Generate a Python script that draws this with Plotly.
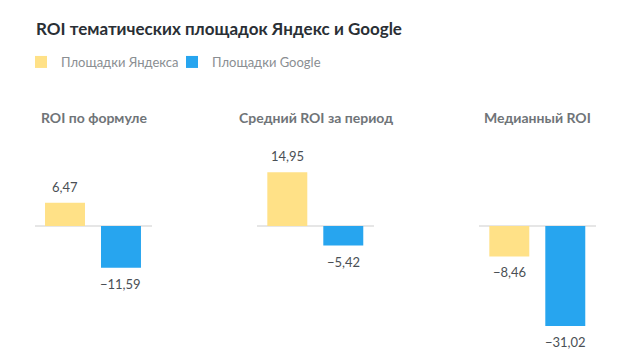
import plotly.graph_objects as go
from plotly.subplots import make_subplots

title = "ROI тематических площадок Яндекс и Google"
categories = ["ROI по формуле", "Средний ROI за период", "Медианный ROI"]
series_names = ["Площадки Яндекса", "Площадки Google"]
yandex = [6.47, 14.95, -8.46]
google = [-11.59, -5.42, -31.02]
colors = ["#FFE187", "#27A5EF"]

OFF = 8  # browser default body margin
W, H = 634 - OFF, 355 - OFF
FONT = "Lato"
Y_MIN, Y_MAX = -27.78, 23.9
PLOT_TOP, PLOT_BOTTOM = 140 - OFF, 326 - OFF

fig = make_subplots(rows=1, cols=3, shared_yaxes=True)

panel_left = [35 - OFF, 257.3 - OFF, 479.3 - OFF]
panel_w = 117
for i, cat in enumerate(categories):
    ax = "" if i == 0 else str(i + 1)
    for s, vals in enumerate([yandex, google]):
        fig.add_trace(go.Bar(
            x=[series_names[s]], y=[vals[i]], name=series_names[s],
            marker=dict(color=colors[s], line=dict(width=0)),
            legendgroup=series_names[s], showlegend=(i == 0),
            hoverinfo="skip",
        ), row=1, col=i + 1)
        v = vals[i]
        txt = f"{abs(v):.2f}".replace(".", ",")
        if v < 0:
            txt = "\u2212" + txt
        fig.add_annotation(
            x=series_names[s], y=max(v, Y_MIN), xref="x" + ax, yref="y" + ax,
            text=txt, showarrow=False,
            yanchor="bottom" if v >= 0 else "top",
            yshift=6 if v >= 0 else -6,
            font=dict(family=FONT, size=13, color="#4a4f55"),
        )
    # panel title
    fig.add_annotation(
        x=0.5, y=1, xref=f"x{ax} domain", yref=f"y{ax} domain",
        text="<b>" + cat + "</b>", showarrow=False,
        yanchor="middle", yshift=23,
        font=dict(family=FONT, size=14, color="#6f7478"),
    )

for i in range(3):
    key = "xaxis" if i == 0 else f"xaxis{i+1}"
    fig.layout[key].update(
        domain=[panel_left[i] / W, (panel_left[i] + panel_w) / W],
        range=[-0.536, 1.554], showticklabels=False, showgrid=False,
        zeroline=False, showline=False, ticks="", fixedrange=True,
    )
    ykey = "yaxis" if i == 0 else f"yaxis{i+1}"
    fig.layout[ykey].update(
        domain=[(H - PLOT_BOTTOM) / H, (H - PLOT_TOP) / H],
        range=[Y_MIN, Y_MAX], showticklabels=False, showgrid=False,
        zeroline=True, zerolinecolor="#e6e6e6", zerolinewidth=2,
        showline=False, ticks="",
    )

fig.update_layout(
    width=W, height=H,
    margin=dict(l=0, r=0, t=0, b=0),
    paper_bgcolor="white", plot_bgcolor="white",
    barmode="group", bargap=0.286,
    title=dict(text="<b>" + title + "</b>", x=(36 - OFF) / W, xanchor="left",
               y=1 - (29 - OFF) / H, yanchor="middle",
               font=dict(family=FONT, size=17, color="#2a2f35")),
    legend=dict(orientation="h", x=(21 - OFF) / W, xanchor="left",
                y=1 - (62 - OFF) / H, yanchor="middle",
                entrywidth=106, entrywidthmode="pixels",
                font=dict(family=FONT, size=13, color="#8a8e92"),
                itemclick=False, itemdoubleclick=False, traceorder="normal"),
    font=dict(family=FONT),
)

fig.write_html("out.html")
